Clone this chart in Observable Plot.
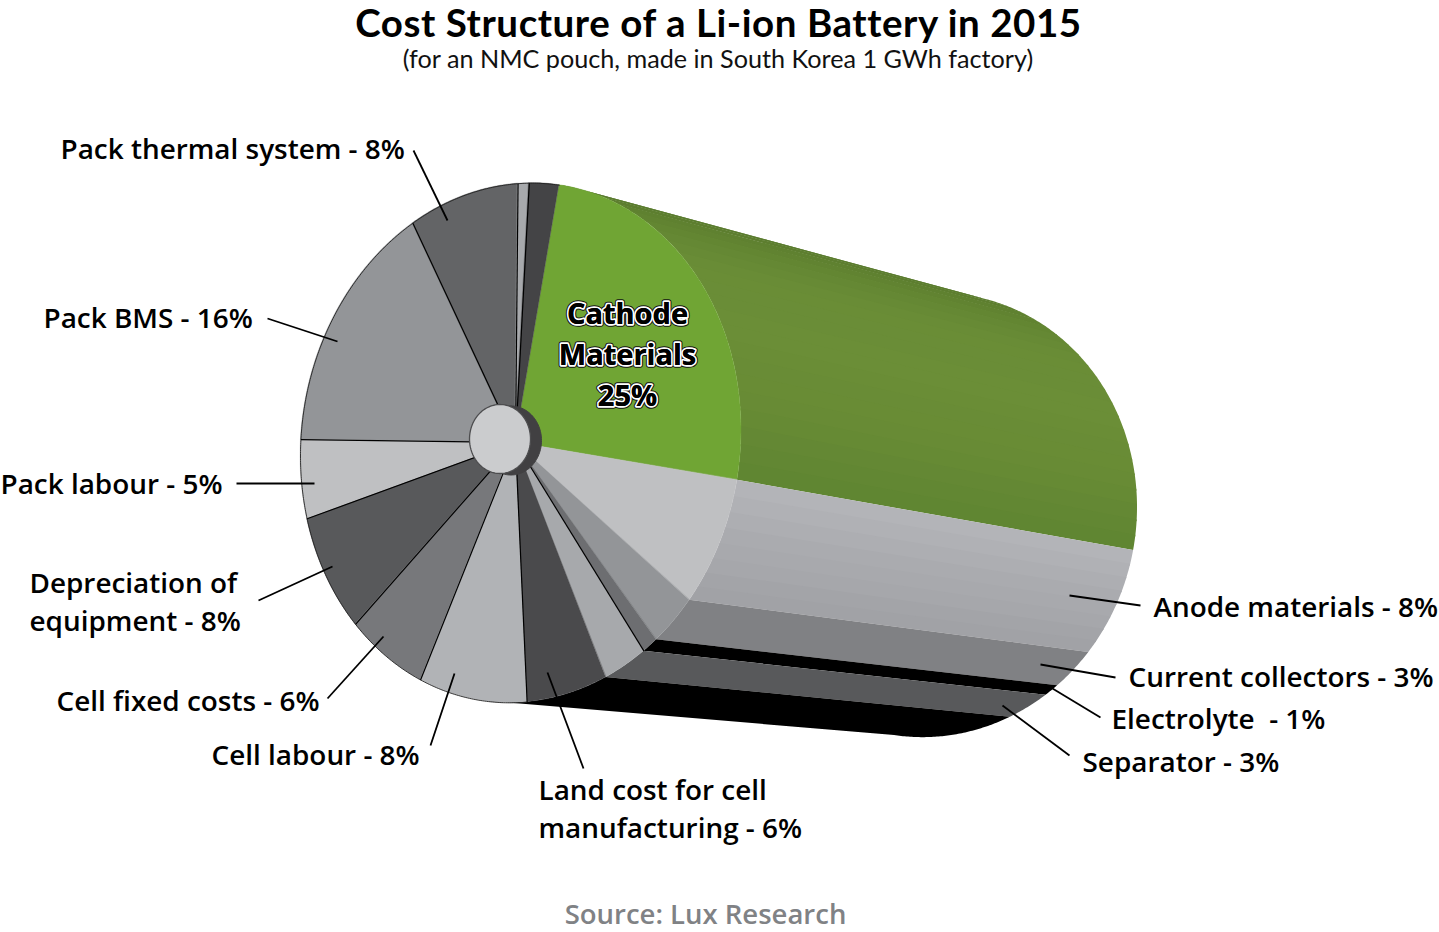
<!DOCTYPE html>
<html><head><meta charset="utf-8">
<script src="https://cdn.jsdelivr.net/npm/d3@7"></script>
<script src="https://cdn.jsdelivr.net/npm/@observablehq/plot@0.6"></script>
<style>
html,body{margin:0;padding:0;background:#fff;width:1439px;overflow:hidden}
#wrap{font-family:"Open Sans",sans-serif;position:relative;width:1439px}
h1{margin:0;height:46px;line-height:46px;font-family:Lato,sans-serif;font-size:38.5px;letter-spacing:.55px;font-weight:700;text-align:center;color:#000;position:relative;left:-1px;top:-1px}
h2{margin:0;height:29px;line-height:29px;font-family:Lato,sans-serif;font-size:25.2px;font-weight:400;text-align:center;color:#111;position:relative;left:-1.5px;top:-2px}
#src{text-align:center;font-size:27.5px;font-weight:600;color:#808285;height:42px;line-height:48px;position:relative;left:-14px}
svg{display:block}
</style></head><body><div id="wrap">
<h1>Cost Structure of a Li-ion Battery in 2015</h1>
<h2>(for an NMC pouch, made in South Korea 1 GWh factory)</h2>
<div id="chart"></div>
<div id="src">Source: Lux Research</div>
</div>
<script>
// ---- data ----
const categories = ["Cathode Materials","Anode materials","Current collectors","Electrolyte","Separator","Land cost for cell manufacturing","Cell labour","Cell fixed costs","Depreciation of equipment","Pack labour","Pack BMS","Pack thermal system","Other (light)","Other (dark)"];
const shares = [25.3,8.05,3.33,1.11,3.11,5.86,7.97,5.97,7.58,4.92,15.83,7.94,0.81,2.18];
const faceColors = ["#70a534","#bfc0c2","#939598","#6d6e71","#a7a9ac","#4a4a4c","#b1b3b6","#77787b","#58595b","#bfc0c2","#939598","#636466","#a7a9ac","#444446"];
const sideStops = [["#55752c","#5f8130","#698c36","#6b8e37","#688b35","#5f8532"],["#b4b5b9","#a9aaae","#a0a1a5"],["#808184"],["#000000"],["#58595b"],["#000000"]];
const darkEdges = [4,6,7,8,9,10,11,12,13]; // slice indexes whose start edge carries a black rule
// ---- label text and layout ----
const labelText = ["Pack thermal system - 8%","Pack BMS - 16%","Pack labour - 5%","Depreciation of\nequipment - 8%","Cell fixed costs - 6%","Cell labour - 8%","Land cost for cell\nmanufacturing - 6%","Separator - 3%","Electrolyte  - 1%","Current collectors - 3%","Anode materials - 8%"];
const labelX = [60,43,0,29,56,211,538,1082,1111,1128,1153];
const labelY = [146.5,315.5,481.5,599,698.5,752.5,806.5,759.5,716.5,674.5,604.5];
const leaderFromX = [413,267,236,258,327,430,583,1069,1100,1115,1140];
const leaderFromY = [150,318,483,600,698,745,768,755,717,677,605];
const leaderToX = [447,337,314,332,383,454,547,1002,1052,1040,1069];
const leaderToY = [220,341,483,566,636,673,672,705,688,664,595];

const near = {cx:520.5, cy:442.5, rx:220.5, ry:259.5, tilt:-13};
const far = {cx:930, cy:515, rx:207, ry:222, tilt:-8};
const apex = {x:515, y:442};
const startDeg = 10, sideEnd = 190;
const rad = d => d*Math.PI/180;
const rim = (e,d) => [e.cx + e.rx*Math.sin(rad(d)), e.cy - e.ry*Math.cos(rad(d)) + (e.tilt||0)*Math.sin(rad(d))];

const total = d3.sum(shares);
const edges = [0,...d3.cumsum(shares)].map(v => startDeg + v/total*360);

// pie face
const faceRows = shares.flatMap((s,i)=>{
  const n = Math.ceil((edges[i+1]-edges[i])/0.5);
  return d3.range(n+1).map(k=>{
    const [x,y] = rim(near, edges[i]+(edges[i+1]-edges[i])*k/n);
    return {id:i,x1:apex.x,y1:apex.y,x2:x,y2:y,fill:faceColors[i]};
  });
});
// extruded side: ruled between near and far rim, banded
const sideRows = [];
sideStops.forEach((stops,i)=>{
  const a = edges[i], b = i===sideStops.length-1 ? sideEnd : edges[i+1];
  const bands = stops.length===1 ? 1 : Math.ceil((b-a)/4);
  const ramp = stops.length===1 ? ()=>stops[0] : d3.scaleLinear().domain(stops.map((_,k)=>k/(stops.length-1))).range(stops);
  d3.range(bands).forEach(j=>{
    const t0=a+(b-a)*j/bands, t1=Math.min(b,a+(b-a)*(j+1)/bands+0.5);
    const n=Math.max(2,Math.ceil((t1-t0)/0.5));
    d3.range(n+1).forEach(k=>{
      const t=t0+(t1-t0)*k/n;
      const [x1,y1]=rim(near,t), [x2,y2]=rim(far,t);
      sideRows.push({id:i+"-"+j,x1,y1,x2,y2,fill:d3.color(ramp((j+.5)/bands)).formatHex()});
    });
  });
});
const outlineRows = d3.range(Math.round(edges[6]*2), Math.round(edges[14]*2)+1).map(h=>{const [x,y]=rim(near,h/2);return {x,y};});
const ruleRows = darkEdges.map(i=>{const [x,y]=rim(near,edges[i]);return {x1:apex.x,y1:apex.y,x2:x,y2:y};});
const hubShade = {cx:510.5,cy:440,rx:30.5,ry:34.5}, hubTop = {cx:499.5,cy:438.5,rx:30.5,ry:34.5};
const ring = e => d3.range(0,361,3).map(d=>{const [x,y]=rim(e,d);return {x,y};});

const labels = labelText.map((t,i)=>({t,x:labelX[i],y:labelY[i]}));
const leaders = labelText.map((t,i)=>({x1:leaderFromX[i],y1:leaderFromY[i],x2:leaderToX[i],y2:leaderToY[i]}));
const cathode = [{t:"Cathode\nMaterials\n25%",x:627,y:351.5}];
const textOpts = {x:"x",y:"y",text:"t",textAnchor:"start",fontSize:27.9,fontWeight:600,lineHeight:1.36,fill:"#000"};
const cathodeOpts = {x:"x",y:"y",text:"t",textAnchor:"middle",fontSize:29,fontWeight:700,lineHeight:1.41,fill:"#000",strokeLinejoin:"round"};

const topY = 75, h = 815;
document.getElementById("chart").append(Plot.plot({
  width:1439,height:h,margin:0,
  style:{background:"transparent",fontFamily:"'Open Sans',sans-serif",overflow:"visible"},
  x:{type:"linear",domain:[0,1439],range:[0,1439],axis:null},
  y:{type:"linear",domain:[topY,topY+h],range:[0,h],axis:null},
  color:{type:"identity"},
  marks:[
    Plot.area(sideRows,{x1:"x1",y1:"y1",x2:"x2",y2:"y2",z:"id",fill:"fill"}),
    Plot.area(faceRows,{x1:"x1",y1:"y1",x2:"x2",y2:"y2",z:"id",fill:"fill",stroke:"fill",strokeWidth:0.4}),
    Plot.line(outlineRows,{x:"x",y:"y",stroke:"#222",strokeWidth:0.9}),
    Plot.link(ruleRows,{x1:"x1",y1:"y1",x2:"x2",y2:"y2",stroke:"#000",strokeWidth:1.2}),
    Plot.line(ring(hubShade),{x:"x",y:"y",fill:"#414042",stroke:"#414042",strokeWidth:1}),
    Plot.line(ring(hubTop),{x:"x",y:"y",fill:"#cbccce",stroke:"#4d4d4f",strokeWidth:1.3}),
    Plot.link(leaders,{x1:"x1",y1:"y1",x2:"x2",y2:"y2",stroke:"#000",strokeWidth:1.8}),
    Plot.text(labels,textOpts),
    Plot.text(cathode,{...cathodeOpts,stroke:"#111",strokeWidth:5.6}),
    Plot.text(cathode,{...cathodeOpts,stroke:"#fff",strokeWidth:3.6}),
    Plot.text(cathode,cathodeOpts)
  ]
}));
</script></body></html>
